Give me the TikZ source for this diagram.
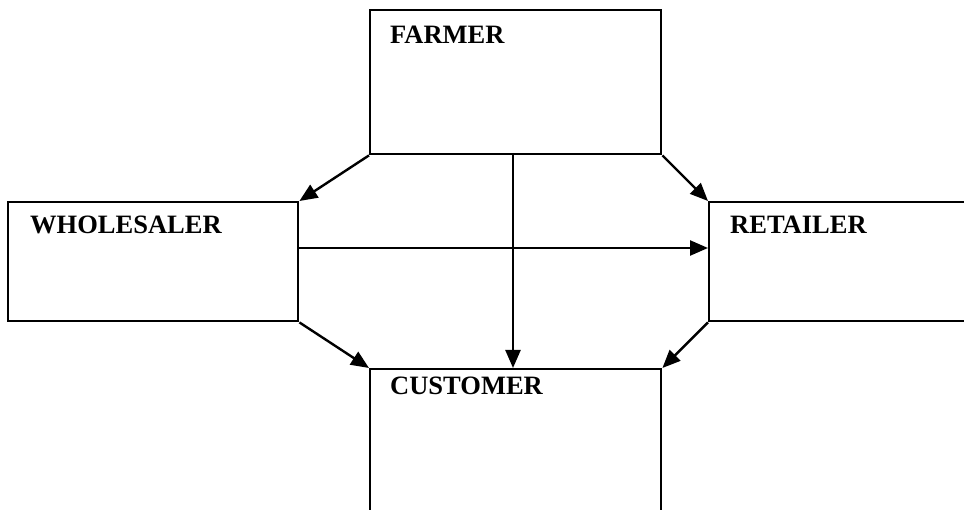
\documentclass[tikz,border=0pt]{standalone}
\usepackage{fontspec}
\setmainfont{Liberation Serif}
\usetikzlibrary{arrows.meta}
\begin{document}
\begin{tikzpicture}[x=1pt,y=-1pt,
  boxnode/.style={draw,line width=2.4pt,inner sep=0pt,anchor=north west},
  lbl/.style={font=\fontsize{26.5}{30}\selectfont\bfseries,anchor=base west,inner sep=0pt},
  conn/.style={line width=2.4pt,-{Triangle[length=18pt,width=15pt]}}]
\useasboundingbox (0,0) rectangle (964,510);
\clip (0,0) rectangle (964,510);
\node[boxnode,minimum width=291pt,minimum height=144pt] (farmer) at (369,9) {};
\node[boxnode,minimum width=290pt,minimum height=119pt] (wholesaler) at (7,201) {};
\node[boxnode,minimum width=300pt,minimum height=119pt] (retailer) at (708,201) {};
\node[boxnode,minimum width=291pt,minimum height=200pt] (customer) at (369,368) {};
\node[lbl] (tf) at (390,44) {FARMER};
\node[lbl] (tw) at (30,234) {WHOLESALER};
\node[lbl] (tr) at (730,234) {RETAILER};
\node[lbl] (tc) at (390,395) {CUSTOMER};
\coordinate (hl) at (297,248);
\coordinate (vt) at (513,153);
\draw[conn] (farmer.south west) -- (wholesaler.north east);
\draw[conn] (farmer.south east) -- (retailer.north west);
\draw[conn] (wholesaler.south east) -- (customer.north west);
\draw[conn] (retailer.south west) -- (customer.north east);
\draw[conn] (hl) -- (hl -| retailer.west);
\draw[conn] (vt) -- (vt |- customer.north);
\end{tikzpicture}
\end{document}
